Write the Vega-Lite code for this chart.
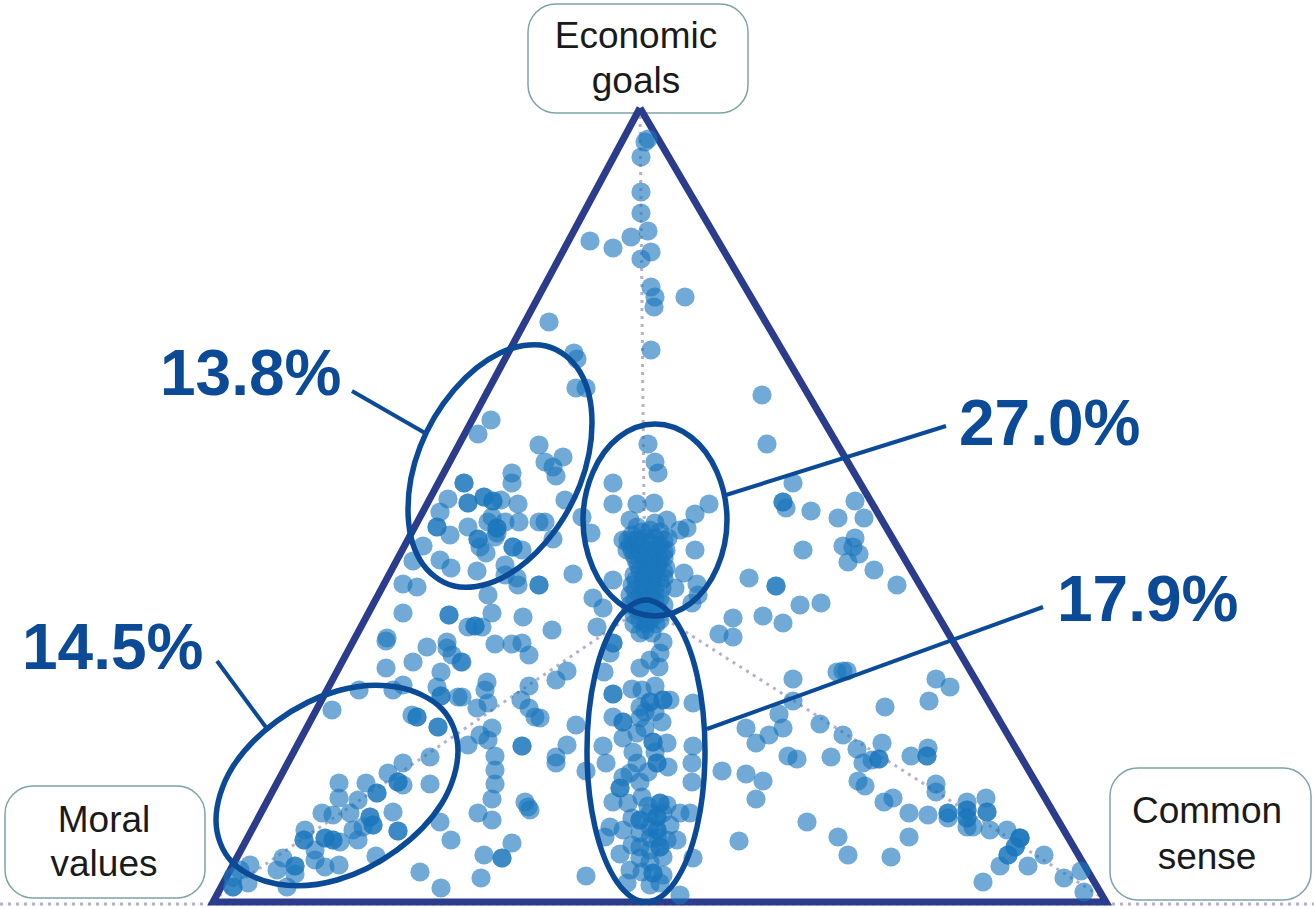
{"$schema":"https://vega.github.io/schema/vega-lite/v6.json","width":1314,"height":908,"padding":0,"autosize":{"type":"none"},"background":"white","view":{"stroke":null},
"datasets":{
"boxes":[{"x":528,"x2":748,"y":4,"y2":113},{"x":5,"x2":205,"y":786,"y2":898},{"x":1110,"x2":1311,"y":768,"y2":900}],
"dots":[{"g":"a","i":0,"x":640,"y":108},{"g":"a","i":1,"x":645,"y":606},{"g":"l","i":0,"x":645,"y":606},{"g":"l","i":1,"x":213,"y":900},{"g":"r","i":0,"x":645,"y":606},{"g":"r","i":1,"x":1106,"y":900},{"g":"b","i":0,"x":0,"y":904},{"g":"b","i":1,"x":1314,"y":904}],
"tri":[{"i":0,"x":640,"y":108},{"i":1,"x":1106,"y":902},{"i":2,"x":213,"y":902},{"i":3,"x":640,"y":108}],
"pts":[{"x":648,"y":139},{"x":645,"y":142},{"x":641,"y":157},{"x":641,"y":192},{"x":641,"y":213},{"x":648,"y":231},{"x":631,"y":237},{"x":590,"y":241},{"x":613,"y":248},{"x":651,"y":252},{"x":641,"y":259},{"x":651,"y":287},{"x":655,"y":297},{"x":654,"y":307},{"x":685,"y":297},{"x":549,"y":322},{"x":651,"y":350},{"x":574,"y":353},{"x":577,"y":359},{"x":576,"y":388},{"x":586,"y":388},
{"x":491,"y":420},{"x":478,"y":434},{"x":539,"y":445},{"x":563,"y":457},{"x":545,"y":462},{"x":553,"y":467},{"x":556,"y":476},{"x":512,"y":473},{"x":512,"y":483},{"x":464,"y":483},{"x":464,"y":483},{"x":565,"y":500},{"x":518,"y":504},{"x":448,"y":499},{"x":440,"y":512},{"x":468,"y":503},{"x":468,"y":503},{"x":484,"y":497},{"x":484,"y":497},{"x":493,"y":501},{"x":493,"y":501},{"x":501,"y":500},{"x":519,"y":522},{"x":539,"y":522},{"x":545,"y":522},{"x":437,"y":527},{"x":437,"y":527},{"x":450,"y":535},{"x":468,"y":527},{"x":478,"y":539},{"x":478,"y":539},{"x":492,"y":517},{"x":497,"y":528},{"x":497,"y":528},{"x":505,"y":522},{"x":495,"y":537},{"x":497,"y":533},{"x":488,"y":522},{"x":513,"y":547},{"x":513,"y":547},{"x":522,"y":550},{"x":480,"y":547},{"x":486,"y":553},{"x":423,"y":546},{"x":553,"y":539},{"x":413,"y":561},{"x":440,"y":560},{"x":451,"y":568},{"x":477,"y":571},{"x":505,"y":565},{"x":505,"y":575},{"x":517,"y":578},{"x":518,"y":585},{"x":539,"y":585},{"x":539,"y":585},{"x":573,"y":574},{"x":403,"y":584},{"x":417,"y":587},{"x":488,"y":595},{"x":403,"y":613},{"x":492,"y":613},{"x":449,"y":615},{"x":449,"y":615},{"x":523,"y":617},{"x":475,"y":626},{"x":475,"y":626},{"x":468,"y":627},{"x":482,"y":627},{"x":552,"y":630},{"x":593,"y":598},{"x":603,"y":608},{"x":597,"y":627},{"x":387,"y":638},{"x":582,"y":517},{"x":591,"y":533},{"x":613,"y":580},{"x":613,"y":483},{"x":613,"y":504},{"x":648,"y":444},{"x":655,"y":462},{"x":658,"y":473},{"x":637,"y":504},{"x":654,"y":503},
{"x":762,"y":395},{"x":767,"y":444},{"x":793,"y":483},{"x":783,"y":502},{"x":783,"y":502},{"x":786,"y":508},{"x":811,"y":511},{"x":838,"y":518},{"x":855,"y":501},{"x":864,"y":518},{"x":803,"y":550},{"x":843,"y":546},{"x":855,"y":538},{"x":853,"y":547},{"x":859,"y":554},{"x":848,"y":562},{"x":874,"y":570},{"x":695,"y":550},{"x":709,"y":504},{"x":695,"y":514},{"x":680,"y":530},{"x":687,"y":528},{"x":667,"y":520},{"x":630,"y":520},{"x":749,"y":578},{"x":776,"y":586},{"x":776,"y":586},{"x":897,"y":585},{"x":800,"y":605},{"x":821,"y":603},{"x":763,"y":616},{"x":783,"y":623},{"x":733,"y":618},{"x":719,"y":634},{"x":733,"y":637},{"x":684,"y":573},{"x":697,"y":584},{"x":698,"y":595},{"x":692,"y":603},{"x":675,"y":588},
{"x":637,"y":527},{"x":623,"y":540},{"x":627,"y":550},{"x":655,"y":523},{"x":632,"y":535},{"x":642,"y":532},{"x":650,"y":530},{"x":660,"y":532},{"x":668,"y":538},{"x":630,"y":545},{"x":640,"y":545},{"x":650,"y":542},{"x":660,"y":545},{"x":666,"y":550},{"x":634,"y":555},{"x":644,"y":555},{"x":654,"y":555},{"x":664,"y":558},{"x":638,"y":565},{"x":648,"y":565},{"x":658,"y":565},{"x":666,"y":568},{"x":634,"y":575},{"x":644,"y":575},{"x":654,"y":575},{"x":664,"y":578},{"x":632,"y":585},{"x":642,"y":585},{"x":652,"y":585},{"x":662,"y":588},{"x":630,"y":595},{"x":640,"y":595},{"x":650,"y":595},{"x":660,"y":598},{"x":630,"y":605},{"x":642,"y":605},{"x":652,"y":605},{"x":664,"y":605},{"x":634,"y":615},{"x":646,"y":615},{"x":656,"y":615},{"x":634,"y":624},{"x":646,"y":624},{"x":656,"y":624},{"x":640,"y":633},{"x":652,"y":633},
{"x":628,"y":540},{"x":636,"y":540},{"x":645,"y":538},{"x":655,"y":538},{"x":664,"y":540},{"x":632,"y":550},{"x":640,"y":552},{"x":648,"y":550},{"x":656,"y":550},{"x":664,"y":552},{"x":636,"y":560},{"x":644,"y":560},{"x":652,"y":560},{"x":660,"y":560},{"x":640,"y":570},{"x":648,"y":570},{"x":656,"y":570},{"x":664,"y":572},{"x":636,"y":580},{"x":644,"y":580},{"x":652,"y":580},{"x":660,"y":582},{"x":635,"y":590},{"x":645,"y":590},{"x":655,"y":590},{"x":635,"y":600},{"x":645,"y":600},{"x":655,"y":600},{"x":638,"y":610},{"x":648,"y":610},{"x":658,"y":610},{"x":640,"y":620},{"x":650,"y":620},{"x":660,"y":620},{"x":645,"y":630},
{"x":495,"y":644},{"x":512,"y":644},{"x":522,"y":643},{"x":529,"y":655},{"x":462,"y":662},{"x":567,"y":671},{"x":556,"y":680},{"x":487,"y":682},{"x":485,"y":690},{"x":477,"y":708},{"x":488,"y":703},{"x":462,"y":697},{"x":529,"y":686},{"x":521,"y":700},{"x":529,"y":708},{"x":535,"y":717},{"x":540,"y":718},{"x":576,"y":725},{"x":492,"y":728},{"x":480,"y":735},{"x":468,"y":745},{"x":488,"y":740},{"x":522,"y":746},{"x":522,"y":746},{"x":495,"y":756},{"x":495,"y":770},{"x":495,"y":784},{"x":492,"y":799},{"x":567,"y":745},{"x":556,"y":757},{"x":556,"y":763},{"x":586,"y":771},{"x":478,"y":813},{"x":492,"y":820},{"x":525,"y":802},{"x":528,"y":807},{"x":530,"y":810},{"x":512,"y":843},{"x":484,"y":855},{"x":502,"y":858},{"x":502,"y":858},{"x":481,"y":878},{"x":586,"y":876},{"x":680,"y":895},
{"x":613,"y":643},{"x":613,"y":643},{"x":610,"y":653},{"x":604,"y":672},{"x":663,"y":642},{"x":660,"y":653},{"x":650,"y":660},{"x":640,"y":668},{"x":659,"y":667},{"x":613,"y":694},{"x":613,"y":694},{"x":632,"y":689},{"x":642,"y":690},{"x":655,"y":686},{"x":663,"y":700},{"x":663,"y":700},{"x":650,"y":702},{"x":650,"y":702},{"x":670,"y":700},{"x":640,"y":707},{"x":693,"y":703},{"x":613,"y":717},{"x":623,"y":722},{"x":623,"y":722},{"x":640,"y":718},{"x":662,"y":722},{"x":623,"y":738},{"x":637,"y":733},{"x":653,"y":742},{"x":653,"y":742},{"x":667,"y":743},{"x":603,"y":746},{"x":693,"y":746},{"x":633,"y":752},{"x":606,"y":763},{"x":692,"y":763},{"x":637,"y":763},{"x":657,"y":763},{"x":657,"y":763},{"x":668,"y":767},{"x":630,"y":773},{"x":623,"y":777},{"x":640,"y":782},{"x":692,"y":782},{"x":620,"y":788},{"x":620,"y":788},{"x":613,"y":802},{"x":628,"y":803},{"x":642,"y":797},{"x":660,"y":803},{"x":660,"y":803},{"x":667,"y":805},{"x":640,"y":820},{"x":640,"y":820},{"x":657,"y":817},{"x":657,"y":817},{"x":650,"y":813},{"x":663,"y":813},{"x":680,"y":813},{"x":690,"y":813},{"x":610,"y":827},{"x":623,"y":830},{"x":605,"y":837},{"x":640,"y":833},{"x":657,"y":830},{"x":657,"y":830},{"x":650,"y":827},{"x":667,"y":840},{"x":677,"y":840},{"x":640,"y":847},{"x":660,"y":847},{"x":660,"y":847},{"x":620,"y":854},{"x":693,"y":858},{"x":640,"y":858},{"x":663,"y":857},{"x":630,"y":870},{"x":653,"y":873},{"x":653,"y":873},{"x":663,"y":875},{"x":642,"y":872},{"x":627,"y":883},{"x":650,"y":885},{"x":660,"y":883},
{"x":645,"y":712},{"x":655,"y":712},{"x":645,"y":728},{"x":655,"y":752},{"x":648,"y":772},{"x":648,"y":806},{"x":650,"y":838},{"x":650,"y":850},{"x":650,"y":862},{"x":658,"y":838},{"x":632,"y":818},{"x":632,"y":845},{"x":670,"y":825},
{"x":386,"y":641},{"x":427,"y":647},{"x":447,"y":642},{"x":447,"y":648},{"x":452,"y":655},{"x":461,"y":662},{"x":413,"y":662},{"x":386,"y":668},{"x":441,"y":672},{"x":437,"y":687},{"x":441,"y":696},{"x":441,"y":696},{"x":458,"y":697},{"x":359,"y":690},{"x":393,"y":690},{"x":403,"y":685},{"x":332,"y":710},{"x":412,"y":715},{"x":417,"y":717},{"x":417,"y":717},{"x":438,"y":727},{"x":438,"y":727},{"x":430,"y":757},{"x":430,"y":784},{"x":403,"y":763},{"x":388,"y":773},{"x":398,"y":782},{"x":398,"y":782},{"x":403,"y":785},{"x":366,"y":783},{"x":339,"y":783},{"x":377,"y":793},{"x":377,"y":793},{"x":339,"y":798},{"x":358,"y":800},{"x":322,"y":813},{"x":333,"y":815},{"x":350,"y":813},{"x":393,"y":812},{"x":370,"y":817},{"x":370,"y":817},{"x":373,"y":825},{"x":373,"y":825},{"x":363,"y":827},{"x":353,"y":830},{"x":358,"y":840},{"x":398,"y":831},{"x":398,"y":831},{"x":440,"y":822},{"x":451,"y":840},{"x":305,"y":830},{"x":304,"y":840},{"x":304,"y":840},{"x":325,"y":838},{"x":325,"y":838},{"x":333,"y":840},{"x":333,"y":840},{"x":340,"y":842},{"x":315,"y":850},{"x":315,"y":860},{"x":339,"y":865},{"x":325,"y":867},{"x":376,"y":856},{"x":295,"y":866},{"x":295,"y":866},{"x":283,"y":858},{"x":277,"y":870},{"x":295,"y":874},{"x":250,"y":865},{"x":240,"y":870},{"x":248,"y":883},{"x":233,"y":887},{"x":233,"y":887},{"x":233,"y":877},{"x":287,"y":887},{"x":420,"y":872},{"x":441,"y":888},
{"x":793,"y":679},{"x":837,"y":672},{"x":843,"y":671},{"x":847,"y":671},{"x":793,"y":701},{"x":779,"y":714},{"x":783,"y":728},{"x":769,"y":735},{"x":746,"y":728},{"x":756,"y":743},{"x":820,"y":724},{"x":843,"y":735},{"x":857,"y":749},{"x":882,"y":743},{"x":863,"y":763},{"x":872,"y":760},{"x":879,"y":759},{"x":879,"y":759},{"x":911,"y":756},{"x":928,"y":748},{"x":927,"y":756},{"x":927,"y":756},{"x":831,"y":757},{"x":788,"y":756},{"x":797,"y":759},{"x":936,"y":679},{"x":950,"y":687},{"x":929,"y":701},{"x":885,"y":707},{"x":722,"y":771},{"x":746,"y":774},{"x":763,"y":781},{"x":756,"y":799},{"x":858,"y":781},{"x":865,"y":786},{"x":884,"y":802},{"x":893,"y":798},{"x":909,"y":813},{"x":928,"y":815},{"x":936,"y":784},{"x":936,"y":792},{"x":948,"y":813},{"x":948,"y":813},{"x":948,"y":818},{"x":967,"y":802},{"x":967,"y":810},{"x":967,"y":810},{"x":967,"y":818},{"x":967,"y":818},{"x":973,"y":827},{"x":967,"y":827},{"x":986,"y":798},{"x":987,"y":812},{"x":987,"y":812},{"x":990,"y":830},{"x":1007,"y":830},{"x":1020,"y":838},{"x":1020,"y":838},{"x":1020,"y":838},{"x":1015,"y":847},{"x":1015,"y":847},{"x":1008,"y":855},{"x":1008,"y":855},{"x":1000,"y":866},{"x":1028,"y":866},{"x":1044,"y":855},{"x":1064,"y":878},{"x":1081,"y":871},{"x":1084,"y":892},{"x":983,"y":882},{"x":909,"y":837},{"x":891,"y":857},{"x":838,"y":837},{"x":848,"y":855},{"x":807,"y":822},{"x":739,"y":841}],
"ell":[{"g":"A","i":0,"x":592,"y":423},{"g":"A","i":1,"x":580,"y":485},{"g":"A","i":2,"x":546,"y":542},{"g":"A","i":3,"x":500,"y":579},{"g":"A","i":4,"x":454,"y":586},{"g":"A","i":5,"x":420,"y":560},{"g":"A","i":6,"x":408,"y":509},{"g":"A","i":7,"x":420,"y":447},{"g":"A","i":8,"x":454,"y":390},{"g":"A","i":9,"x":500,"y":353},{"g":"A","i":10,"x":546,"y":346},{"g":"A","i":11,"x":580,"y":372},
{"g":"B","i":0,"x":727,"y":520},{"g":"B","i":1,"x":717,"y":568},{"g":"B","i":2,"x":691,"y":603},{"g":"B","i":3,"x":655,"y":616},{"g":"B","i":4,"x":619,"y":603},{"g":"B","i":5,"x":593,"y":568},{"g":"B","i":6,"x":583,"y":520},{"g":"B","i":7,"x":593,"y":472},{"g":"B","i":8,"x":619,"y":437},{"g":"B","i":9,"x":655,"y":424},{"g":"B","i":10,"x":691,"y":437},{"g":"B","i":11,"x":717,"y":472},
{"g":"C","i":0,"x":705,"y":751},{"g":"C","i":1,"x":697,"y":827},{"g":"C","i":2,"x":675,"y":882},{"g":"C","i":3,"x":646,"y":902},{"g":"C","i":4,"x":617,"y":882},{"g":"C","i":5,"x":595,"y":827},{"g":"C","i":6,"x":587,"y":751},{"g":"C","i":7,"x":595,"y":675},{"g":"C","i":8,"x":617,"y":620},{"g":"C","i":9,"x":646,"y":600},{"g":"C","i":10,"x":675,"y":620},{"g":"C","i":11,"x":697,"y":675},
{"g":"D","i":0,"x":458,"y":751},{"g":"D","i":1,"x":442,"y":803},{"g":"D","i":2,"x":397,"y":850},{"g":"D","i":3,"x":337,"y":880},{"g":"D","i":4,"x":277,"y":884},{"g":"D","i":5,"x":232,"y":862},{"g":"D","i":6,"x":216,"y":820},{"g":"D","i":7,"x":232,"y":768},{"g":"D","i":8,"x":277,"y":721},{"g":"D","i":9,"x":337,"y":691},{"g":"D","i":10,"x":397,"y":687},{"g":"D","i":11,"x":442,"y":709}],
"conn":[{"x":352,"y":391,"x2":425,"y2":433},{"x":726,"y":495,"x2":946,"y2":426},{"x":707,"y":729,"x2":1043,"y2":607},{"x":217,"y":661,"x2":268,"y2":730}],
"labels":[{"x":636,"y":37,"t":"Economic"},{"x":636,"y":82,"t":"goals"},{"x":104,"y":821,"t":"Moral"},{"x":104,"y":865,"t":"values"},{"x":1207,"y":812,"t":"Common"},{"x":1207,"y":858,"t":"sense"}],
"pct":[{"x":160,"y":376,"t":"13.8%"},{"x":959,"y":426,"t":"27.0%"},{"x":1057,"y":602,"t":"17.9%"},{"x":22,"y":650,"t":"14.5%"}]
},
"encoding":{
"x":{"field":"x","type":"quantitative","scale":{"domain":[0,1314],"nice":false,"zero":false},"axis":null},
"y":{"field":"y","type":"quantitative","scale":{"domain":[908,0],"nice":false,"zero":false},"axis":null}
},
"layer":[
{"data":{"name":"boxes"},"mark":{"type":"rect","fill":"white","stroke":"#7FA3A8","strokeWidth":1.5,"cornerRadius":28},"encoding":{"x2":{"field":"x2"},"y2":{"field":"y2"}}},
{"data":{"name":"dots"},"mark":{"type":"line","stroke":"#B7B0CC","strokeWidth":3,"strokeDash":[3,5]},"encoding":{"detail":{"field":"g"},"order":{"field":"i"}}},
{"data":{"name":"tri"},"mark":{"type":"line","stroke":"#2B3C8C","strokeWidth":7,"strokeJoin":"miter"},"encoding":{"order":{"field":"i"}}},
{"data":{"name":"pts"},"mark":{"type":"circle","size":370,"fill":"#1A76BD","opacity":0.62}},
{"data":{"name":"ell"},"mark":{"type":"line","interpolate":"cardinal-closed","stroke":"#0B4A96","strokeWidth":5.5},"encoding":{"detail":{"field":"g"},"order":{"field":"i"}}},
{"data":{"name":"conn"},"mark":{"type":"rule","stroke":"#0B4A96","strokeWidth":4},"encoding":{"x2":{"field":"x2"},"y2":{"field":"y2"}}},
{"data":{"name":"labels"},"mark":{"type":"text","font":"Liberation Sans","fontSize":37,"fill":"#1A1A1A","align":"center","baseline":"middle"},"encoding":{"text":{"field":"t"}}},
{"data":{"name":"pct"},"mark":{"type":"text","font":"Liberation Sans","fontWeight":"bold","fontSize":64,"fill":"#0B4A96","align":"left","baseline":"middle"},"encoding":{"text":{"field":"t"}}}
]}
